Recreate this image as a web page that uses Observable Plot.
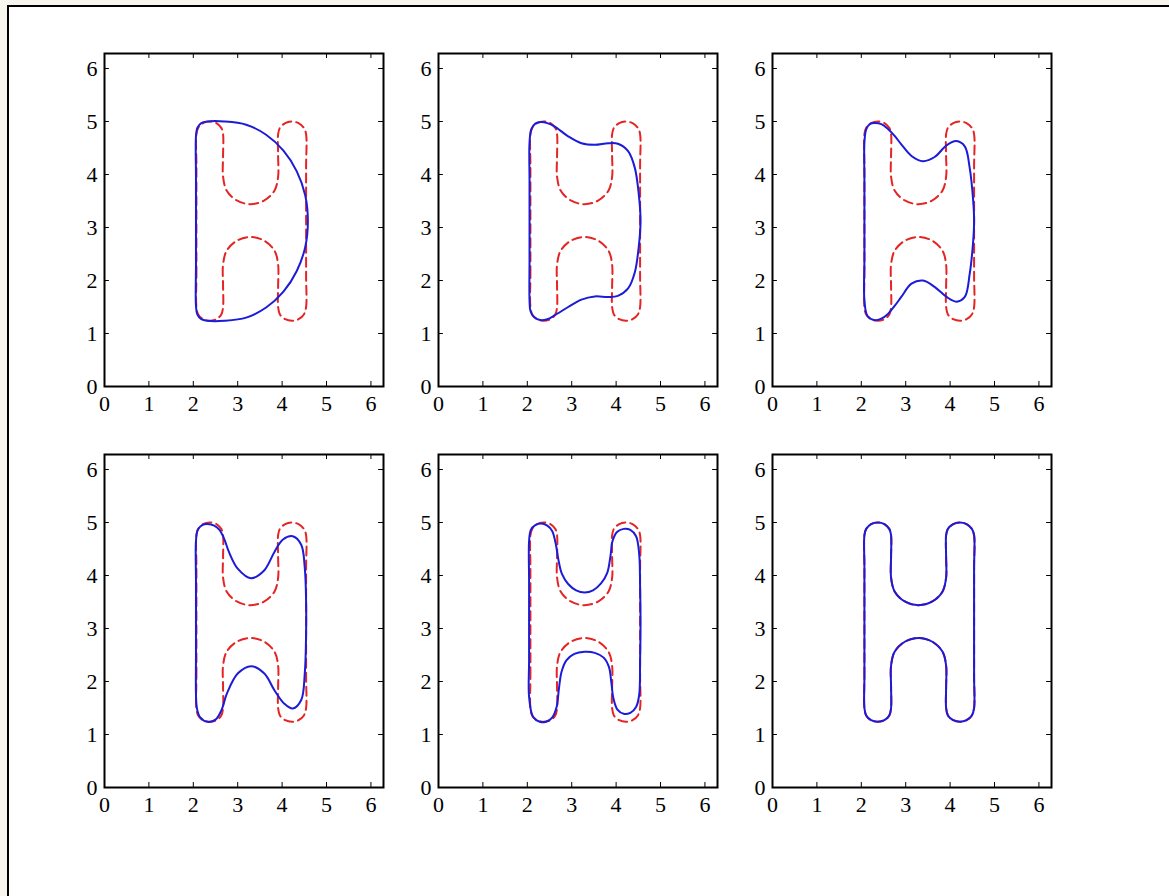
<!DOCTYPE html>
<html>
<head>
<meta charset="utf-8">
<script src="https://cdn.jsdelivr.net/npm/d3@7"></script>
<script src="https://cdn.jsdelivr.net/npm/@observablehq/plot@0.6"></script>
<style>
  html, body { margin: 0; padding: 0; }
  body { width: 1169px; height: 896px; background: #f6f6ee; position: relative; overflow: hidden; }
  #sheet { position: absolute; left: 7px; top: 5px; width: 1170px; height: 900px; background: #ffffff;
           border-left: 2px solid #000; border-top: 2px solid #000; }
  svg.panel { position: absolute; overflow: visible; }
</style>
</head>
<body>
<div id="sheet"></div>
<script>
// ---- data ----
const X_TICKS = [0, 1, 2, 3, 4, 5, 6];
const Y_TICKS = [0, 1, 2, 3, 4, 5, 6];
const LIMIT = 6.2832;

// target shape "H" (red dashed)
const H_TARGET = [
  [2.07,1.50],[2.07,2.10],[2.07,3.12],[2.07,4.15],[2.07,4.76],
  [2.11,4.88],[2.22,4.97],[2.37,5.00],[2.52,4.97],[2.63,4.88],
  [2.67,4.76],[2.67,4.35],[2.67,3.96],
  [2.75,3.70],[2.98,3.51],[3.29,3.44],[3.60,3.51],[3.83,3.70],
  [3.91,3.96],[3.91,4.35],[3.91,4.76],
  [3.95,4.88],[4.07,4.97],[4.22,5.00],[4.37,4.97],[4.49,4.88],
  [4.54,4.76],[4.54,4.15],[4.54,3.12],[4.54,2.10],[4.54,1.50],
  [4.49,1.36],[4.37,1.27],[4.22,1.24],[4.07,1.27],[3.95,1.36],
  [3.91,1.50],[3.91,1.90],[3.91,2.30],
  [3.83,2.56],[3.60,2.75],[3.29,2.82],[2.98,2.75],[2.75,2.56],
  [2.67,2.30],[2.67,1.90],[2.67,1.50],
  [2.63,1.36],[2.52,1.27],[2.37,1.24],[2.22,1.27],[2.11,1.36]
];

// evolving shape (blue solid), one list per panel
const BLUE_1 = [
  [2.06,1.52],[2.06,2.30],[2.06,3.12],[2.06,3.95],[2.06,4.72],
  [2.09,4.88],[2.18,4.97],[2.32,5.00],[2.70,5.00],
  [3.19,4.94],[3.64,4.75],[4.03,4.45],[4.33,4.06],[4.52,3.61],[4.58,3.12],
  [4.52,2.63],[4.33,2.18],[4.03,1.79],[3.64,1.49],[3.19,1.30],[2.70,1.24],
  [2.32,1.24],[2.18,1.27],[2.09,1.36]
];
const BLUE_2 = [
  [2.05,1.63],[2.05,2.40],[2.05,3.12],[2.05,3.90],[2.05,4.60],
  [2.09,4.85],[2.18,4.96],[2.31,4.99],[2.45,4.97],[2.61,4.91],[2.92,4.72],
  [3.22,4.59],[3.52,4.56],[3.82,4.59],[4.04,4.58],[4.27,4.44],[4.42,4.13],
  [4.51,3.63],[4.55,3.12],[4.51,2.64],[4.42,2.15],[4.27,1.85],[4.04,1.71],
  [3.82,1.69],[3.52,1.70],[3.22,1.64],[2.92,1.50],[2.61,1.34],[2.45,1.27],
  [2.31,1.25],[2.15,1.31],[2.07,1.43]
];
const BLUE_3 = [
  [2.07,1.63],[2.07,2.40],[2.07,3.12],[2.07,3.90],[2.07,4.60],
  [2.11,4.85],[2.19,4.95],[2.30,4.97],[2.45,4.95],[2.60,4.86],[2.75,4.73],
  [2.90,4.57],[3.13,4.35],[3.39,4.25],[3.65,4.33],[3.92,4.55],[4.14,4.63],
  [4.33,4.53],[4.44,4.13],[4.52,3.50],[4.54,3.12],[4.52,2.75],[4.44,2.12],
  [4.33,1.69],[4.14,1.60],[3.92,1.69],[3.65,1.88],[3.39,2.00],[3.13,1.94],
  [2.90,1.69],[2.75,1.52],[2.60,1.37],[2.45,1.28],[2.30,1.25],[2.14,1.33]
];
const BLUE_4 = [
  [2.06,1.77],[2.06,2.50],[2.06,3.12],[2.06,3.90],[2.06,4.65],
  [2.10,4.86],[2.20,4.95],[2.32,4.97],[2.47,4.94],[2.59,4.86],[2.70,4.68],
  [2.80,4.45],[3.00,4.13],[3.30,3.95],[3.60,4.10],[3.83,4.45],[4.02,4.68],
  [4.24,4.74],[4.43,4.58],[4.51,4.15],[4.54,3.52],[4.54,2.90],[4.51,2.15],
  [4.43,1.65],[4.24,1.49],[4.05,1.58],[3.83,1.83],[3.60,2.15],[3.30,2.29],
  [3.00,2.15],[2.76,1.78],[2.63,1.45],[2.50,1.28],[2.32,1.24],[2.15,1.33],[2.08,1.50]
];
const BLUE_5 = [
  [2.04,1.71],[2.04,2.40],[2.04,3.12],[2.04,3.90],[2.04,4.65],
  [2.08,4.86],[2.18,4.95],[2.31,4.98],[2.45,4.94],[2.56,4.84],[2.64,4.60],
  [2.70,4.30],[2.78,4.03],[2.92,3.84],[3.10,3.72],[3.29,3.68],[3.48,3.72],
  [3.66,3.85],[3.80,4.05],[3.87,4.35],[3.92,4.65],[4.02,4.82],[4.17,4.88],
  [4.32,4.86],[4.45,4.74],[4.52,4.40],[4.54,3.80],[4.55,3.12],[4.54,2.40],
  [4.52,1.75],[4.45,1.52],[4.32,1.41],[4.17,1.39],[4.03,1.47],[3.94,1.68],
  [3.89,2.00],[3.84,2.27],[3.72,2.45],[3.52,2.54],[3.29,2.56],[3.06,2.52],
  [2.88,2.40],[2.77,2.18],[2.71,1.85],[2.66,1.52],[2.56,1.32],[2.42,1.24],
  [2.28,1.24],[2.13,1.33]
];
const BLUE_6 = H_TARGET; // final panel: the curve has reached the target

const PANELS = [BLUE_1, BLUE_2, BLUE_3, BLUE_4, BLUE_5, BLUE_6];

// ---- layout ----
const FRAME_W = 279, FRAME_H = 333;
const ML = 50, MR = 10, MT = 10, MB = 40;
const COL_LEFT = [104, 438, 772];
const ROW_TOP = [53, 454];
const BLUE = "#1b1bd8";
const RED = "#e52424";
const FONT = "Liberation Serif";
const FONT_SIZE = 22;
const TX = 0.11, TY = 0.095; // inward tick length in data units

function panel(blue, left, top) {
  const svg = Plot.plot({
    width: FRAME_W + ML + MR,
    height: FRAME_H + MT + MB,
    marginLeft: ML, marginRight: MR, marginTop: MT, marginBottom: MB,
    x: {domain: [0, LIMIT]},
    y: {domain: [0, LIMIT]},
    style: {fontFamily: FONT, fontSize: FONT_SIZE + "px", color: "#000", background: "transparent", overflow: "visible"},
    marks: [
      Plot.axisX({ticks: X_TICKS, tickSize: 0, tickPadding: 9, label: null, tickFormat: d => String(d),
        fontSize: FONT_SIZE, fontFamily: FONT, fill: "#000"}),
      Plot.axisY({ticks: Y_TICKS, tickSize: 0, tickPadding: 7, label: null, tickFormat: d => String(d),
        fontSize: FONT_SIZE, fontFamily: FONT, fill: "#000"}),
      Plot.ruleX(X_TICKS, {x: d => d, y1: 0, y2: TY, stroke: "#000", strokeWidth: 1}),
      Plot.ruleX(X_TICKS, {x: d => d, y1: LIMIT - TY, y2: LIMIT, stroke: "#000", strokeWidth: 1}),
      Plot.ruleY(Y_TICKS, {y: d => d, x1: 0, x2: TX, stroke: "#000", strokeWidth: 1}),
      Plot.ruleY(Y_TICKS, {y: d => d, x1: LIMIT - TX, x2: LIMIT, stroke: "#000", strokeWidth: 1}),
      Plot.line(H_TARGET, {x: d => d[0], y: d => d[1], curve: "catmull-rom-closed",
        stroke: RED, strokeWidth: 2, strokeDasharray: "9,5"}),
      Plot.line(blue, {x: d => d[0], y: d => d[1], curve: "catmull-rom-closed",
        stroke: BLUE, strokeWidth: 2}),
      Plot.frame({stroke: "#000", strokeWidth: 2})
    ]
  });
  svg.classList.add("panel");
  svg.style.left = (left - ML) + "px";
  svg.style.top = (top - MT) + "px";
  d3.select(svg).selectAll("text")
    .style("font-family", FONT, "important")
    .style("font-size", FONT_SIZE + "px", "important");
  document.body.appendChild(svg);
}

PANELS.forEach((b, i) => panel(b, COL_LEFT[i % 3], ROW_TOP[Math.floor(i / 3)]));
</script>
</body>
</html>
